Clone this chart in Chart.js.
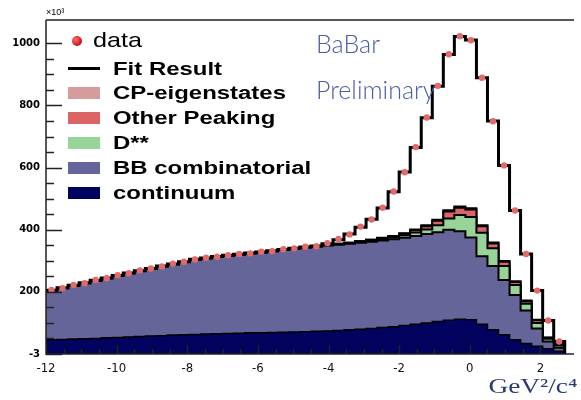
<!DOCTYPE html>
<html>
<head>
<meta charset="utf-8">
<script src="https://cdn.jsdelivr.net/npm/chart.js@4.4.0/dist/chart.umd.min.js"></script>
<style>
  body { margin: 0; background: #fff; }
  #wrap { position: relative; width: 581px; height: 400px; overflow: hidden; }
  #wrap canvas { position: absolute; left: 0; top: 0; }
  .txt { position: absolute; white-space: nowrap; }
  .leg { font: bold 18px "Liberation Sans", Arial, sans-serif; line-height: 20px; left: 113px;
         transform: scaleX(1.33); transform-origin: 0 50%; color: #000; }
  .box { position: absolute; left: 68px; width: 32px; height: 12px; }
</style>
</head>
<body>
<div id="wrap">
  <canvas id="chart" width="581" height="400"></canvas>
  <div class="txt" style="left:46px;top:7px;font:9px 'Liberation Sans',Arial,sans-serif;">×10³</div>
  <div class="txt" style="left:316px;top:28px;font:300 25px Lato,sans-serif;color:#4b5ba6;">BaBar</div>
  <div class="txt" style="left:316px;top:74px;font:300 25px Lato,sans-serif;color:#4b5ba6;">Preliminary</div>
  <div class="txt" style="right:4px;top:374px;font:21px 'Liberation Serif',serif;color:#2a3a70;transform:scaleX(1.3);transform-origin:100% 50%;">GeV²/c⁴</div>
  <div id="legend"></div>
</div>
<script>
// histogram binning: 48 bins of 0.3125 from -12
const xMin = -12;
const binWidth = 0.3125;

// per-bin contents (x10^3 events)
const dataPts = [206,212,222,228,238,244,254,260,269,275,282,291,297,304,310,313,318,322,324,329,331,337,340,345,
                 347,357,370,385,410,433,471,523,585,666,761,863,965,1023,1010,889,749,607,462,322,204,108,40];
const fitResult = [205,213,221,229,237,245,253,261,268,275,283,290,297,305,309,314,318,321,325,328,332,336,340,344,
                   348,355,368,386,408,434,470,522,586,665,760,862,964,1022,1011,889,750,607,462,322,204,108,40,0];
const continuum = [46,47,48,49,50,52,53,55,56,58,59,61,62,63,64,65,66,67,68,68,69,70,71,72,
                   73,74,76,78,80,82,85,88,92,96,100,105,109,112,110,96,78,62,46,34,25,17,9,0];
const bbComb = [158,165,172,179,186,192,199,205,211,216,223,228,234,241,244,248,251,253,256,259,262,265,268,271,
                273,275,276,277,278,279,280,281,282,284,286,287,291,283,265,219,205,176,144,106,57,23,11,0];
const dStar = [0,0,0,0,0,0,0,0,0,0,0,0,0,0,0,0,0,0,0,0,0,0,0,0,
               1,1,2,2,3,4,5,6,8,11,15,22,36,52,66,75,57,45,32,22,18,9,7,0];
const otherPeak = [0,0,0,0,0,0,0,0,0,0,0,0,0,0,0,0,0,0,0,0,0,0,0,0,
                   0,0,1,1,2,3,3,4,5,8,10,15,23,24,24,21,16,14,10,8,9,3,4,0];
const cpEigen = [0,0,0,0,0,0,0,0,0,0,0,0,0,0,0,0,0,0,0,0,0,0,0,0,
                 0,0,0,0,0,0,1,1,2,2,3,3,4,4,4,3,3,2,2,2,1,1,1,0];

const yTickLabels = { 0: "-3", 200: "200", 400: "400", 600: "600", 800: "800", 1000: "1000" };

const colors = {
  data: "#e26a6a",
  cp: "#d69c9c",
  other: "#dc6464",
  dstar: "#98d498",
  bb: "#65659a",
  cont: "#02025f"
};

const edges = continuum.map((_, k) => xMin + binWidth * k);
const centers = dataPts.map((_, k) => xMin + binWidth * (k + 0.5));

// stack the components
const lvl1 = continuum.slice();
const lvl2 = lvl1.map((v, k) => v + bbComb[k]);
const lvl3 = lvl2.map((v, k) => v + dStar[k]);
const lvl4 = lvl3.map((v, k) => v + otherPeak[k]);
const lvl5 = lvl4.map((v, k) => v + cpEigen[k]);

const asSteps = arr => arr.map((v, k) => ({ x: edges[k], y: v }));

function histSet(label, arr, color, bw) {
  return {
    label: label,
    data: asSteps(arr),
    stepped: true,
    fill: "origin",
    backgroundColor: color,
    borderColor: "#000",
    borderWidth: bw,
    pointRadius: 0
  };
}

// inward ROOT-style ticks and frame
const frame = {
  id: "frame",
  afterDatasetsDraw(chart) {
    const { ctx, chartArea: a, scales: { x, y } } = chart;
    ctx.save();
    ctx.strokeStyle = "#222";
    ctx.lineWidth = 1.5;
    ctx.beginPath();
    ctx.moveTo(a.left, a.top); ctx.lineTo(a.right, a.top);
    ctx.moveTo(a.left, a.top); ctx.lineTo(a.left, a.bottom);
    ctx.lineTo(a.right, a.bottom);
    y.ticks.forEach(t => {
      if (t.value % 50 !== 0) return;
      const py = Math.round(y.getPixelForValue(t.value)) + 0.5;
      const len = t.value % 200 === 0 ? 16 : 8;
      ctx.moveTo(a.left, py); ctx.lineTo(a.left + len, py);
    });
    x.ticks.forEach(t => {
      if (t.value % 0.5 !== 0) return;
      const px = Math.round(x.getPixelForValue(t.value)) + 0.5;
      const len = t.value % 2 === 0 ? 9 : 5;
      ctx.moveTo(px, a.bottom); ctx.lineTo(px, a.bottom - len);
    });
    ctx.stroke();
    ctx.restore();
  }
};

new Chart(document.getElementById("chart"), {
  type: "line",
  data: {
    datasets: [
      {
        label: "data",
        data: centers.map((x, k) => ({ x: x, y: dataPts[k] })),
        showLine: false,
        pointRadius: 3.2,
        pointBackgroundColor: colors.data,
        pointBorderWidth: 0
      },
      {
        label: "Fit Result",
        data: asSteps(fitResult),
        stepped: true,
        fill: false,
        borderColor: "#000",
        borderWidth: 3,
        pointRadius: 0
      },
      histSet("continuum", lvl1, colors.cont, 1.5),
      histSet("BB combinatorial", lvl2, colors.bb, 2),
      histSet("D**", lvl3, colors.dstar, 2),
      histSet("Other Peaking", lvl4, colors.other, 2),
      histSet("CP-eigenstates", lvl5, colors.cp, 2)
    ]
  },
  options: {
    responsive: false,
    animation: false,
    devicePixelRatio: 1,
    layout: { padding: { top: 20, right: 0, left: 0, bottom: 0 } },
    plugins: {
      legend: { display: false },
      tooltip: { enabled: false }
    },
    scales: {
      x: {
        type: "linear",
        min: -12,
        max: 2.95,
        grid: { display: false, drawTicks: false },
        border: { display: false },
        afterFit: s => { s.height = 46; },
        ticks: {
          stepSize: 0.5,
          autoSkip: false,
          maxRotation: 0,
          padding: 7,
          color: "#111",
          font: { family: "'Liberation Sans Narrow', 'DejaVu Sans Condensed', sans-serif", size: 13 },
          callback: v => (Number.isInteger(v) && v % 2 === 0) ? String(v) : ""
        }
      },
      y: {
        min: 0,
        max: 1075,
        grid: { display: false, drawTicks: false },
        border: { display: false },
        afterFit: s => { s.width = 46; },
        ticks: {
          stepSize: 50,
          padding: 6,
          color: "#000",
          font: { family: "'DejaVu Sans', sans-serif", size: 10, weight: "bold" },
          callback: v => yTickLabels[v] !== undefined ? yTickLabels[v] : ""
        }
      }
    }
  },
  plugins: [frame]
});

// legend
const legendRows = [
  { label: "Fit Result", kind: "line", cy: 68.5 },
  { label: "CP-eigenstates", kind: "box", color: colors.cp, cy: 93 },
  { label: "Other Peaking", kind: "box", color: colors.other, cy: 118 },
  { label: "D**", kind: "box", color: colors.dstar, cy: 142.5 },
  { label: "BB combinatorial", kind: "box", color: colors.bb, cy: 168 },
  { label: "continuum", kind: "box", color: colors.cont, cy: 193 }
];
const leg = document.getElementById("legend");
let html = '<div class="txt" style="left:72px;top:36px;width:10px;height:10px;border-radius:50%;' +
           'background:radial-gradient(circle at 35% 35%, #ff7070, #c81010 70%);"></div>' +
           '<div class="txt" style="left:93px;top:28px;font:21px \'Liberation Sans\',Arial,sans-serif;' +
           'line-height:24px;transform:scaleX(1.2);transform-origin:0 50%;">data</div>';
legendRows.forEach(r => {
  if (r.kind === "line") {
    html += '<div class="box" style="top:' + (r.cy - 1.5) + 'px;height:3px;background:#000;"></div>';
  } else {
    html += '<div class="box" style="top:' + (r.cy - 6) + 'px;background:' + r.color + ';"></div>';
  }
  html += '<div class="txt leg" style="top:' + (r.cy - 10) + 'px;">' + r.label + '</div>';
});
leg.innerHTML = html;
</script>
</body>
</html>
